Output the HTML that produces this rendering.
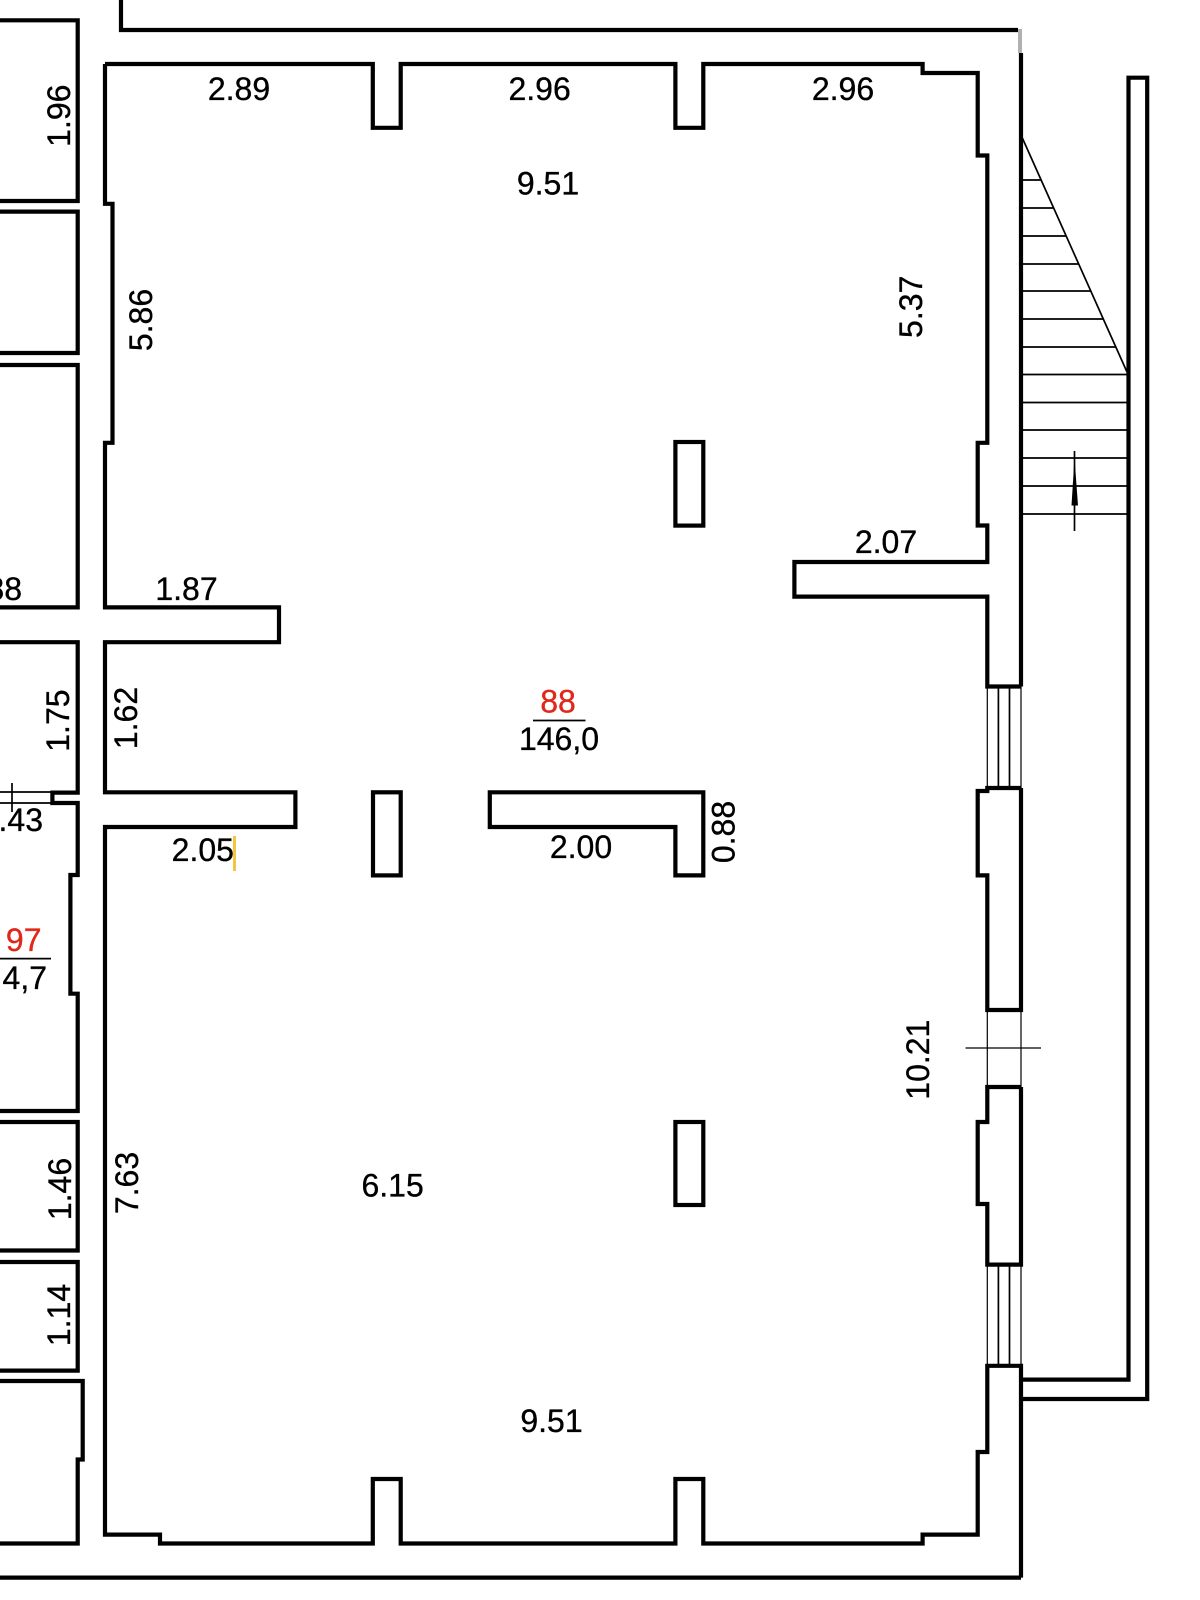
<!DOCTYPE html>
<html>
<head>
<meta charset="utf-8">
<style>
html,body{margin:0;padding:0;background:#fff;width:1200px;height:1600px;overflow:hidden}
svg{display:block}
text{font-family:"Liberation Sans",sans-serif;font-size:32px;fill:#000;stroke:#000;stroke-width:.35}
.w{fill:none;stroke:#000;stroke-width:4.2;stroke-miterlimit:10}
.t{fill:none;stroke:#000;stroke-width:1.7}
.th{fill:none;stroke:#000;stroke-width:1.2}
.r{fill:#e0281a !important;stroke:#e0281a !important}
</style>
</head>
<body>
<svg width="1200" height="1600" viewBox="0 0 1200 1600" xmlns="http://www.w3.org/2000/svg">
<rect width="1200" height="1600" fill="#fff"/>

<!-- top corridor wall -->
<path class="w" d="M121 0V30H1018"/>
<rect x="1018" y="29" width="4" height="24" fill="#b0b0b0"/>
<path class="w" d="M1021 53V686.5"/>

<!-- main room -->
<path class="w" d="M105 64H372.8V127.8H400.7V64H675.4V127.8H703.3V64H922.6V73H977.7V155.5H987.3V442.8H977.7V525.5H987.3V562H794.4V596.6H987.3V686.5H1021"/>
<path class="w" d="M1021 788H987.3V791H977.7V875.4H987.3V1010H1021V788"/>
<path class="w" d="M1021 1087H987.3V1122H977.7V1204H987.3V1264.6H1021V1087"/>
<path class="w" d="M1021 1577.6V1365.8H987.3V1452H977.7V1534.6H922.6V1543.5H703.3V1479H675.4V1543.5H400.7V1479H372.8V1543.5H160V1534.6H105V827H295.4V792.3H105V642.2H279V607.4H105V442.8H112.5V203.8H105V64"/>
<path class="w" d="M0 1577.6H1021"/>

<!-- pillars -->
<rect class="w" x="373" y="792.3" width="27.7" height="83.1"/>
<rect class="w" x="675.4" y="442" width="27.9" height="83.6"/>
<rect class="w" x="675.4" y="1122" width="27.9" height="83"/>
<path class="w" d="M489.8 792.3H703.3V875.4H675.4V827H489.8Z"/>

<!-- left rooms -->
<path class="w" d="M0 20.3H77.7V201H0"/>
<path class="w" d="M0 211.6H77.7V353H0"/>
<path class="w" d="M0 365H77.7V607.4H0"/>
<path class="w" d="M0 642.2H77.7V792.6H52.4V803H77.7V875H70.4V993.7H77.7V1111H0"/>
<path class="w" d="M0 1122H77.7V1250.5H0"/>
<path class="w" d="M0 1262H77.7V1370.6H0"/>
<path class="w" d="M0 1381H82.7V1459.5H77.7V1543.5H0"/>
<path class="t" d="M0 792H52M0 803H52M12 783V812"/>

<!-- windows -->
<path class="th" d="M987.3 686.5V788M1021 686.5V788"/>
<path class="t" d="M998.4 686.5V788M1009.5 686.5V788"/>
<path class="th" d="M987.3 1264.6V1365.8M1021 1264.6V1365.8"/>
<path class="t" d="M998.4 1264.6V1365.8M1009.5 1264.6V1365.8"/>
<path class="th" d="M987.3 1010V1087M1021 1010V1087"/>
<path class="th" d="M965.5 1048H1041"/>

<!-- stairs -->
<path class="w" d="M1021 1399H1147.2V77.7H1128.5V1379.6H1021"/>
<path class="t" d="M1021 135L1127 372"/>
<path class="t" d="M1021 180H1041M1021 208H1053.5M1021 236H1066M1021 264H1078.5M1021 291H1091M1021 319H1103M1021 347H1116M1021 374.5H1128M1021 402.5H1128M1021 430H1128M1021 458H1128M1021 486H1128M1021 514H1128"/>
<path class="t" d="M1074.5 451V531"/>
<polygon points="1074.5,458 1078,505.5 1071.5,505.5" fill="#000"/>

<!-- labels -->
<g text-anchor="middle">
<text x="239" y="100">2.89</text>
<text x="539.6" y="100">2.96</text>
<text x="843" y="100">2.96</text>
<text x="548" y="194.5">9.51</text>
<text x="886" y="553">2.07</text>
<text x="186.5" y="600">1.87</text>
<text class="r" x="558" y="712.5">88</text>
<text x="559" y="750">146,0</text>
<text x="202.8" y="861">2.05</text>
<text class="r" x="23.7" y="951">97</text>
<text x="581" y="858">2.00</text>
<text x="392.6" y="1196.7">6.15</text>
<text x="551.5" y="1432">9.51</text>
<text transform="translate(70 115.7) rotate(-90)">1.96</text>
<text transform="translate(152 320) rotate(-90)">5.86</text>
<text transform="translate(922 306.8) rotate(-90)">5.37</text>
<text transform="translate(69 720.6) rotate(-90)">1.75</text>
<text transform="translate(137 718) rotate(-90)">1.62</text>
<text transform="translate(734.7 832) rotate(-90)">0.88</text>
<text transform="translate(929 1059.7) rotate(-90)">10.21</text>
<text transform="translate(137.8 1183) rotate(-90)">7.63</text>
<text transform="translate(70.8 1189) rotate(-90)">1.46</text>
<text transform="translate(70 1315) rotate(-90)">1.14</text>
</g>
<g text-anchor="end">
<text x="22" y="600">1.88</text>
<text x="43" y="831">1.43</text>
<text x="47" y="989">4,7</text>
</g>
<path d="M533 720.5H585.5" stroke="#000" stroke-width="1.8" fill="none"/>
<path d="M0 958.6H51" stroke="#000" stroke-width="1.8" fill="none"/>
<rect x="233" y="836" width="3" height="35" fill="#f5c542"/>
</svg>
</body>
</html>
